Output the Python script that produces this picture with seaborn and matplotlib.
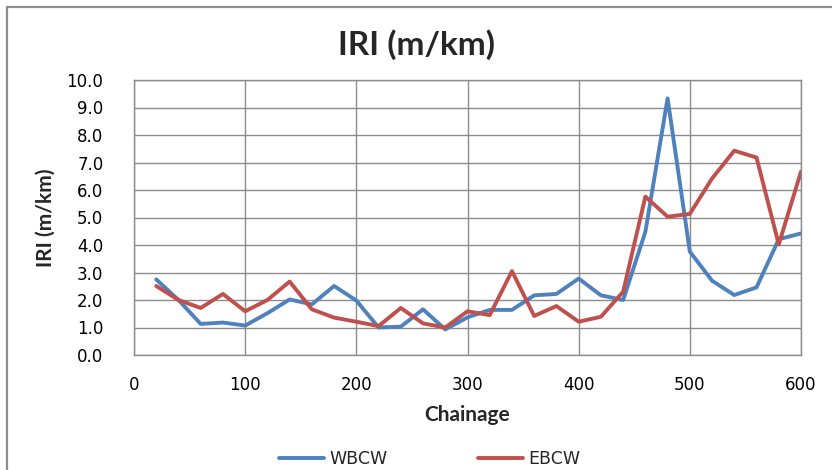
import matplotlib
matplotlib.use("Agg")
import matplotlib.pyplot as plt
import matplotlib.patches as mpatches
import seaborn as sns
import pandas as pd

# Chainage stations and IRI readings (m/km) for both carriageways
chainage = [20, 40, 60, 80, 100, 120, 140, 160, 180, 200,
            220, 240, 260, 280, 300, 320, 340, 360, 380, 400,
            420, 440, 460, 480, 500, 520, 540, 560, 580, 600]
wbcw = [2.75, 2.00, 1.13, 1.18, 1.07, 1.52, 2.02, 1.84, 2.51, 1.98,
        1.00, 1.03, 1.66, 0.93, 1.37, 1.64, 1.64, 2.17, 2.22, 2.78,
        2.17, 2.00, 4.48, 9.33, 3.76, 2.70, 2.18, 2.46, 4.21, 4.42]
ebcw = [2.51, 2.00, 1.71, 2.22, 1.59, 2.00, 2.67, 1.66, 1.36, 1.21,
        1.05, 1.71, 1.15, 1.00, 1.59, 1.45, 3.05, 1.42, 1.78, 1.21,
        1.39, 2.30, 5.76, 5.03, 5.13, 6.42, 7.43, 7.18, 4.02, 6.67]
series_names = ["WBCW", "EBCW"]
series_colors = ["#4F81BD", "#C0504D"]

df = pd.DataFrame({"Chainage": chainage, "WBCW": wbcw, "EBCW": ebcw})
long_df = df.melt(id_vars="Chainage", var_name="Series", value_name="IRI")

sns.set_style("white")
plt.rcParams["font.family"] = ["DejaVu Sans"]

fig = plt.figure(figsize=(8.32, 4.70), dpi=100)
ax = fig.add_axes([134 / 832, 1 - 355 / 470, (801 - 134) / 832, (355 - 80) / 470])

# outer chart frame
fig.patches.append(mpatches.Rectangle((7 / 832, -0.1), 1.2, 1 - 7 / 470 + 0.1,
                                      transform=fig.transFigure, fill=False,
                                      edgecolor="#8c8c8c", linewidth=1.6, zorder=0))

sns.lineplot(data=long_df, x="Chainage", y="IRI", hue="Series",
             hue_order=series_names, palette=series_colors,
             linewidth=2.8, ax=ax, legend=False)

ax.set_xlim(0, 600)
ax.set_ylim(0, 10)
ax.set_xticks(range(0, 601, 100))
ax.set_yticks([i for i in range(0, 11)])
ax.set_yticklabels([f"{v:.1f}" for v in range(0, 11)])
ax.grid(True, color="#8c8c8c", linewidth=1.0)
ax.set_axisbelow(True)
for sp in ax.spines.values():
    sp.set_color("#8c8c8c")
    sp.set_linewidth(1.0)
ax.tick_params(axis="both", length=0, labelsize=12, colors="#000000")
ax.tick_params(axis="y", pad=22)
ax.tick_params(axis="x", pad=15)

label_font = dict(fontsize=15, fontweight="bold", family=["Lato", "DejaVu Sans"])
ax.set_xlabel("Chainage", labelpad=8, **label_font)
ax.set_ylabel("IRI (m/km)", labelpad=8, **label_font)
fig.text(0.5, 1 - 45 / 470, "IRI (m/km)", ha="center", va="center",
         fontsize=24, fontweight="bold", family=["Lato", "DejaVu Sans"])

handles = [plt.Line2D([], [], color=c, linewidth=2.8) for c in series_colors]
fig.legend(handles, series_names, loc="center", bbox_to_anchor=(0.516, 1 - 459 / 470),
           ncol=2, frameon=False, fontsize=12.5, handlelength=2.6, columnspacing=5.2,
           handletextpad=0.3, borderpad=0.1)

fig.savefig("out.png", dpi=100)
